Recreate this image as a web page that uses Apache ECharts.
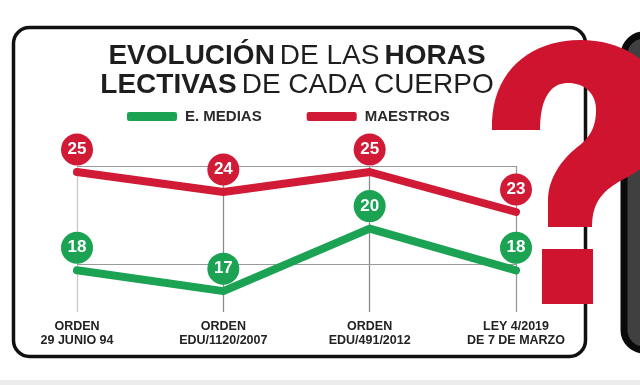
<!DOCTYPE html>
<html>
<head>
<meta charset="utf-8">
<script src="https://cdn.jsdelivr.net/npm/echarts@6/dist/echarts.min.js"></script>
<style>
  html, body { margin: 0; padding: 0; background: #ffffff; }
  #chart { width: 640px; height: 385px; }
</style>
</head>
<body>
<div id="chart"></div>
<script>
// ---- data ----
const categories = ['ORDEN\n29 JUNIO 94', 'ORDEN\nEDU/1120/2007', 'ORDEN\nEDU/491/2012', 'LEY 4/2019\nDE 7 DE MARZO'];
const seriesNames = ['E. MEDIAS', 'MAESTROS'];
const mediasHours = [18, 17, 20, 18];
const maestrosHours = [25, 24, 25, 23];
const mediasGuide = 18.3;
const maestrosGuide = 25.3;
const titleText = '{b|EVOLUCIÓN} {r|DE LAS} {b|HORAS}\n{b|LECTIVAS} {r|DE CADA CUERPO}';

// ---- style ----
const GREEN = '#1ba353';
const RED = '#d11a36';
const QRED = '#cf1430';
const FONT = '"Liberation Sans", Arial, sans-serif';

// decorative question mark outline (cubic bezier segments), sampled to a polygon
const qStart = [492, 130];
const qSegs = [
  ['C', 490, 72, 530, 40, 580, 40],
  ['C', 632, 40, 668, 72, 668, 118],
  ['C', 668, 152, 645, 168, 622, 180],
  ['C', 600, 192, 592, 205, 592, 227],
  ['L', 548, 227],
  ['L', 548, 200],
  ['C', 548, 180, 560, 160, 580, 145],
  ['C', 592, 135, 596, 124, 596, 110],
  ['C', 596, 93, 584, 83, 568, 83],
  ['C', 552, 83, 540, 96, 540, 130]
];
function samplePath(start, segs) {
  const pts = [start.slice()];
  let cur = start.slice();
  segs.forEach(function (s) {
    if (s[0] === 'L') { cur = [s[1], s[2]]; pts.push(cur); return; }
    const p0 = cur, p1 = [s[1], s[2]], p2 = [s[3], s[4]], p3 = [s[5], s[6]];
    for (let i = 1; i <= 20; i++) {
      const t = i / 20, u = 1 - t;
      pts.push([
        u * u * u * p0[0] + 3 * u * u * t * p1[0] + 3 * u * t * t * p2[0] + t * t * t * p3[0],
        u * u * u * p0[1] + 3 * u * u * t * p1[1] + 3 * u * t * t * p2[1] + t * t * t * p3[1]
      ]);
    }
    cur = p3;
  });
  return pts;
}

function lineSeries(name, data, color, axisIndex, guide) {
  return {
    name: name,
    type: 'line',
    yAxisIndex: axisIndex,
    data: data,
    clip: false,
    symbol: 'circle',
    symbolSize: 1,
    itemStyle: { color: color },
    lineStyle: { color: color, width: 8, cap: 'round', join: 'round' },
    label: {
      show: true,
      position: 'top',
      distance: 22,
      color: '#fff',
      fontFamily: FONT,
      fontWeight: 'bold',
      fontSize: 17,
      backgroundColor: color,
      borderRadius: 16,
      width: 32,
      height: 32,
      lineHeight: 32,
      align: 'center',
      verticalAlign: 'middle',
      padding: 0
    },
    markLine: {
      silent: true,
      symbol: 'none',
      label: { show: false },
      lineStyle: { color: '#9a9a9a', width: 1, type: 'solid' },
      data: [{ yAxis: guide }],
      z: 1
    },
    z: 3
  };
}

const chart = echarts.init(document.getElementById('chart'), null, { renderer: 'canvas' });
chart.setOption({
  animation: false,
  backgroundColor: '#ffffff',
  title: {
    text: titleText,
    left: 292,
    top: 37,
    textAlign: 'center',
    textStyle: {
      rich: {
        b: { fontFamily: FONT, fontWeight: 'bold', fontSize: 28, color: '#1e1e1e', lineHeight: 29 },
        r: { fontFamily: FONT, fontWeight: 'normal', fontSize: 28, color: '#1e1e1e', lineHeight: 29 }
      }
    }
  },
  legend: {
    data: seriesNames,
    left: 122,
    top: 104,
    icon: 'roundRect',
    itemWidth: 50,
    itemHeight: 9,
    itemGap: 45,
    itemStyle: { borderWidth: 0 },
    textStyle: { fontFamily: FONT, fontWeight: 'bold', fontSize: 15, color: '#2a2a2a', padding: [0, 0, 0, 3] }
  },
  grid: { left: 77, right: 124, top: 166, bottom: 73, containLabel: false },
  xAxis: {
    type: 'category',
    data: categories,
    boundaryGap: false,
    axisLine: { show: false },
    axisTick: { show: false },
    axisLabel: {
      margin: 7,
      color: '#222',
      fontFamily: FONT,
      fontWeight: 'bold',
      fontSize: 12.5,
      lineHeight: 14.5,
      interval: 0
    },
    splitLine: { show: true, lineStyle: { color: ['#c8c8c8', '#8a8a8a', '#8a8a8a', '#9a9a9a'], width: 1.3 } }
  },
  yAxis: [
    { type: 'value', min: 16, max: 23, show: false, splitLine: { show: false } },
    { type: 'value', min: 18, max: 25.3, show: false, splitLine: { show: false } }
  ],
  series: [
    lineSeries(seriesNames[0], mediasHours, GREEN, 0, mediasGuide),
    lineSeries(seriesNames[1], maestrosHours, RED, 1, maestrosGuide)
  ],
  graphic: [
    { type: 'rect', z: -5, shape: { x: 0, y: 380, width: 640, height: 5 }, style: { fill: '#ececec' }, silent: true },
    { type: 'rect', z: -5, shape: { x: 13.5, y: 27.5, width: 572, height: 329, r: 16 }, style: { fill: 'none', stroke: '#111', lineWidth: 3.5 }, silent: true },
    { type: 'rect', z: 50, shape: { x: 624, y: 35, width: 40, height: 315, r: 20 }, style: { fill: '#404040', stroke: '#0a0a0a', lineWidth: 7 }, silent: true },
    { type: 'polygon', z: 60, silent: true, shape: { points: samplePath(qStart, qSegs) }, style: { fill: QRED } },
    { type: 'rect', z: 60, silent: true, shape: { x: 542, y: 249, width: 51, height: 55 }, style: { fill: QRED } }
  ]
});
</script>
</body>
</html>
